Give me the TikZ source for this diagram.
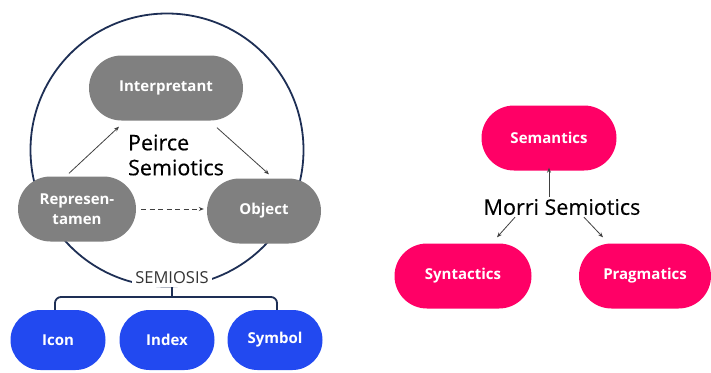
\documentclass[tikz,border=0pt]{standalone}
\usepackage{fontspec}
\setmainfont{Open Sans}
\newfontfamily\titlefont[FakeBold=0.35]{Open Sans}
\usetikzlibrary{arrows.meta}
\definecolor{peircegray}{HTML}{808080}
\definecolor{signblue}{HTML}{2249F0}
\definecolor{morripink}{HTML}{FF0066}
\definecolor{ringnavy}{HTML}{1E2F55}
\definecolor{arrowgray}{HTML}{404040}

\begin{document}
\begin{tikzpicture}[x=1pt, y=-1pt,
        pill/.style={text=white, inner sep=0pt, font=\fontsize{15}{20}\selectfont\bfseries, align=center},
        peircebox/.style={pill, fill=peircegray, minimum height=65pt, rounded corners=32.5pt},
        signbox/.style={pill, fill=signblue, minimum height=60pt, minimum width=95pt, rounded corners=30pt},
        morribox/.style={pill, fill=morripink, minimum height=65pt, rounded corners=32.5pt},
        title/.style={inner sep=2pt, font=\titlefont\fontsize{21.5}{25}\selectfont, align=left},
        link/.style={draw=arrowgray, line width=0.8pt, -{Stealth[length=5pt, width=4pt]}}]

        \useasboundingbox (0, 0) rectangle (711, 372);

        % Semiosis ring, drawn first so the boxes sit on top
        \coordinate (C) at (167, 150);
        \draw[ringnavy, line width=1.8pt] (C) circle [radius=136.5pt];

        % Peirce triad
        \begin{scope}
            \node[peircebox, minimum width=154pt] (interp) at (166, 88) {Interpretant};
            \node[peircebox, minimum width=118pt] (rep) at (77, 209) {Represen-\\tamen};
            \node[peircebox, minimum width=114pt] (object) at (264, 211) {Object};
            \node[title] (peirce) at (176, 155) {Peirce\\Semiotics};
            \node[fill=white, inner sep=3pt, text=black!80, font=\fontsize{16.5}{20}\selectfont] (semiosis) at (172, 278) {SEMIOSIS};
        \end{scope}

        \begin{scope}
            \draw[link] ([shift={(-8, -3)}]rep.north) -- ([shift={(-47, 6)}]interp.south);
            \draw[link] ([shift={(51, 7)}]interp.south) -- ([shift={(5, -4)}]object.north);
            \draw[link, dash pattern=on 5pt off 3.5pt, shorten <=5pt, shorten >=3pt] (rep.east) -- (rep.east -| object.west);
        \end{scope}

        % Kinds of sign
        \node[signbox] (icon) at (58, 340) {Icon};
        \node[signbox] (index) at (167, 340) {Index};
        \node[signbox] (symbol) at (275, 340) {Symbol};

        \coordinate (B) at (semiosis.south |- 0, 297);
        \begin{scope}[ringnavy, line width=1.8pt, rounded corners=6pt]
            \draw ([xshift=-3pt]icon.north) |- (B) -| ([xshift=2pt]symbol.north);
            \draw (semiosis.south) -- (B);
        \end{scope}

        % Morris triad
        \begin{scope}
            \node[morribox, minimum width=135pt] (sem) at (549, 138) {Semantics};
            \node[morribox, minimum width=137pt] (syn) at (463, 276) {Syntactics};
            \node[morribox, minimum width=132pt] (prag) at (645, 276) {Pragmatics};
            \node[title] (morri) at (562, 207) {Morri Semiotics};
        \end{scope}

        \begin{scope}
            \draw[link] (morri.north -| sem.south) -- ([yshift=3pt]sem.south);
            \draw[link] ([xshift=-47pt]morri.south) -- ([shift={(34, -6)}]syn.north);
            \draw[link] ([xshift=22pt]morri.south) -- ([shift={(-42, -6)}]prag.north);
        \end{scope}

    \end{tikzpicture}
\end{document}
